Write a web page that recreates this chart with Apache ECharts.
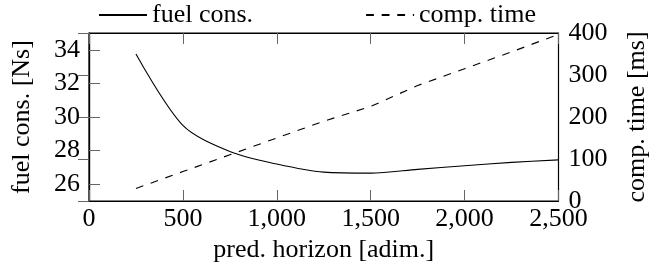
<!DOCTYPE html>
<html>
<head>
<meta charset="utf-8">
<script src="https://cdn.jsdelivr.net/npm/echarts@6/dist/echarts.min.js"></script>
<style>
  html, body { margin: 0; padding: 0; background: #fff; }
  #chart { width: 651px; height: 266px; }
</style>
</head>
<body>
<div id="chart"></div>
<script>
// prediction horizon [adim.]
const horizon = [250, 500, 750, 1000, 1250, 1500, 1750, 2000, 2250, 2500]
// fuel consumption [Ns]
const fuelCons = [33.75, 29.5, 27.95, 27.2, 26.72, 26.66, 26.88, 27.1, 27.3, 27.45]
// computation time [ms]
const compTime = [30, 70, 110, 150, 190, 225, 275, 315, 355, 397]
const fuelTicks = [26, 28, 30, 32, 34]

const FONT = '"Liberation Serif", "DejaVu Serif", serif'
const pairs = (xs, ys) => xs.map((x, i) => [x, ys[i]])

let chart = echarts.init(document.getElementById('chart'))

const tickStyle = { color: '#666', width: 1 }
const lineStyle = { color: '#000', width: 1.2 }
const label = { color: '#000', fontFamily: FONT, fontSize: 26 }

chart.setOption({
    animation: false,
    legend: {
        left: 98,
        top: 2,
        padding: 0,
        itemWidth: 48,
        itemHeight: 14,
        itemGap: 112,
        itemStyle: { opacity: 0 },
        textStyle: { color: '#000', fontFamily: FONT, fontSize: 26 },
        data: ['fuel cons.', 'comp. time']
    },
    grid: {
        left: 89,
        right: 92.5,
        top: 33,
        bottom: 65,
        outerBoundsMode: 'none',
        show: true,
        borderColor: '#000',
        borderWidth: 1.2
    },
    xAxis: [
        {
            type: 'value',
            position: 'bottom',
            min: 0,
            max: 2500,
            interval: 500,
            name: 'pred. horizon [adim.]',
            nameLocation: 'middle',
            nameGap: 36,
            nameTextStyle: label,
            axisLine: { show: true, lineStyle: lineStyle },
            axisTick: { show: true, inside: true, length: 11, lineStyle: tickStyle },
            axisLabel: Object.assign({ margin: 5, formatter: v => v.toLocaleString('en-US') }, label),
            splitLine: { show: false }
        },
        {
            type: 'value',
            position: 'top',
            min: 0,
            max: 2500,
            interval: 500,
            axisLine: { show: true, lineStyle: lineStyle },
            axisTick: { show: true, inside: true, length: 11, lineStyle: tickStyle },
            axisLabel: { show: false },
            splitLine: { show: false }
        }
    ],
    yAxis: [
        {
            type: 'value',
            position: 'left',
            min: 25,
            max: 35,
            name: 'fuel cons. [Ns]',
            nameLocation: 'middle',
            nameRotate: 90,
            nameGap: 54,
            nameTextStyle: label,
            axisLine: { show: true, lineStyle: lineStyle },
            axisTick: { show: true, inside: true, length: 11, lineStyle: tickStyle, customValues: fuelTicks },
            axisLabel: Object.assign({ margin: 9, customValues: fuelTicks }, label),
            splitLine: { show: false }
        },
        {
            type: 'value',
            position: 'right',
            min: 0,
            max: 400,
            interval: 100,
            name: 'comp. time [ms]',
            nameLocation: 'middle',
            nameRotate: 90,
            nameGap: 66,
            nameTextStyle: label,
            axisLine: { show: true, lineStyle: lineStyle },
            axisTick: { show: true, inside: true, length: 11, lineStyle: tickStyle },
            axisLabel: Object.assign({ margin: 10 }, label),
            splitLine: { show: false }
        }
    ],
    series: [
        {
            name: 'fuel cons.',
            type: 'line',
            xAxisIndex: 0,
            yAxisIndex: 0,
            smooth: 0.3,
            symbol: 'none',
            lineStyle: { color: '#000', width: 1.1, type: 'solid' },
            itemStyle: { color: '#000' },
            data: pairs(horizon, fuelCons)
        },
        {
            name: 'comp. time',
            type: 'line',
            xAxisIndex: 0,
            yAxisIndex: 1,
            symbol: 'none',
            lineStyle: { color: '#000', width: 1.1, type: [7.8, 7.8] },
            itemStyle: { color: '#000' },
            data: pairs(horizon, compTime)
        }
    ]
})
</script>
</body>
</html>
